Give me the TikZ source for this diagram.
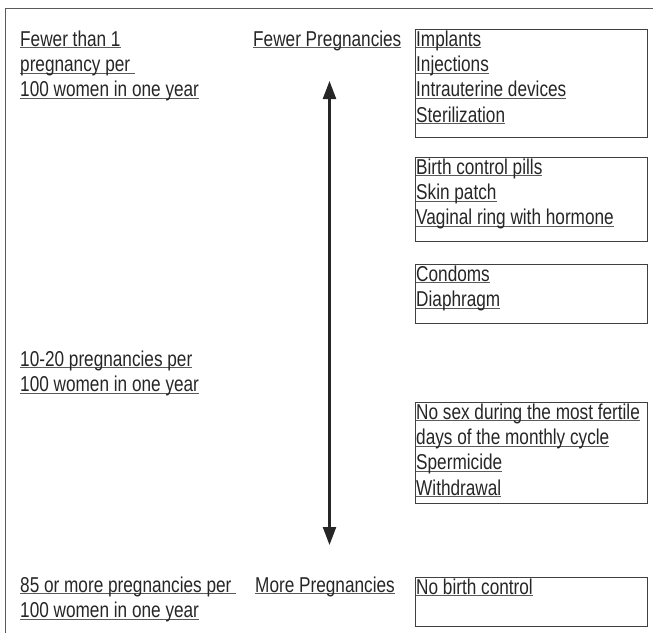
\documentclass[tikz,border=0pt]{standalone}
\usepackage{fontspec}
\setmainfont{Liberation Sans}[FakeStretch=0.8]
\usepackage{xcolor}
\usetikzlibrary{arrows.meta}
\definecolor{inkgray}{HTML}{262626}
\definecolor{rulegray}{HTML}{404040}
\definecolor{linegray}{HTML}{5A5A5A}
% one underlined line of text, fixed line height
\newcommand{\undl}[1]{\rule[-8.3pt]{0pt}{25.3pt}\setbox0=\hbox{#1}\rlap{\textcolor{linegray}{\rule[-2pt]{\wd0}{0.8pt}}}\box0}

\begin{document}
\begin{tikzpicture}[
    x=1pt, y=-1pt,
    txt/.style={
      font=\fontsize{21.5}{25.3}\selectfont, text=inkgray,
      align=left, inner sep=0pt, anchor=north west
    },
    box/.style={
      draw=rulegray, line width=0.8pt, inner sep=0pt,
      minimum width=232pt, anchor=north west
    },
    frame/.style={draw=linegray, line width=0.9pt},
    >={Triangle[length=18pt, width=13pt]}
  ]
    \useasboundingbox (0,0) rectangle (653,633);
    \draw[frame] (5,633) -- (5,8.5) -- (653,8.5);

    % rates on the left
    \node[txt] (low)  at (20,29)  {\undl{Fewer than 1}\\\undl{pregnancy per\ }\\\undl{100 women in one year}};
    \node[txt] (mid)  at (20,349) {\undl{10-20 pregnancies per}\\\undl{100 women in one year}};
    \node[txt] (high) at (20,575) {\undl{85 or more pregnancies per\ }\\\undl{100 women in one year}};

    \node[txt] (fewer) at (253,29)  {\undl{Fewer Pregnancies}};
    \node[txt] (more)  at (255,575) {\undl{More Pregnancies}};

    \coordinate (uptip)   at (329.5,81);
    \coordinate (downtip) at (329.5,545);
    \draw[<->, line width=2.3pt, draw=black!85] (uptip) -- (downtip);

    % methods on the right
    \node[box, minimum height=108pt] (topbox)  at (415,29)  {};
    \node[box, minimum height=84pt]  (pillbox) at (415,157) {};
    \node[box, minimum height=59pt]  (barbox)  at (415,264) {};
    \node[box, minimum height=101pt] (lowbox)  at (415,402) {};
    \node[box, minimum height=49pt]  (nonebox) at (415,577) {};

    \node[txt] (toplist)  at ([xshift=1pt]topbox.north west)  {\undl{Implants}\\\undl{Injections}\\\undl{Intrauterine devices}\\\undl{Sterilization}};
    \node[txt] (pilllist) at ([xshift=1pt]pillbox.north west) {\undl{Birth control pills}\\\undl{Skin patch}\\\undl{Vaginal ring with hormone}};
    \node[txt] (barlist)  at ([xshift=1pt]barbox.north west)  {\undl{Condoms}\\\undl{Diaphragm}};
    \node[txt] (lowlist)  at ([xshift=1pt]lowbox.north west)  {\undl{No sex during the most fertile}\\\undl{days of the monthly cycle}\\\undl{Spermicide}\\\undl{Withdrawal}};
    \node[txt] (nonelist) at ([xshift=1pt]nonebox.north west) {\undl{No birth control}};
  \end{tikzpicture}
\end{document}
